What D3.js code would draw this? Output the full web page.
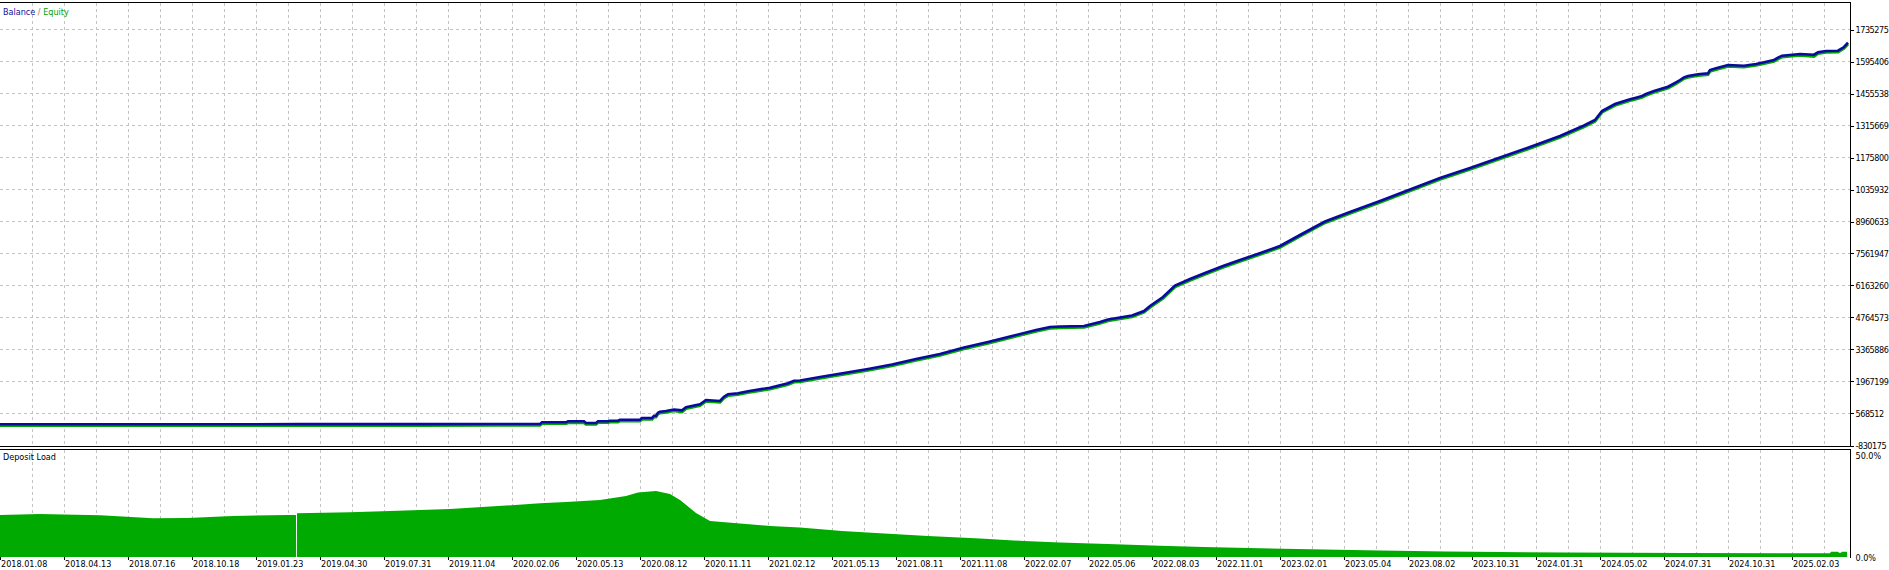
<!DOCTYPE html>
<html><head><meta charset="utf-8">
<script src="https://cdn.jsdelivr.net/npm/d3@7"></script>
<style>
html,body{margin:0;padding:0;background:#fff;overflow:hidden}
svg{display:block}
text{font-family:"DejaVu Sans Condensed","DejaVu Sans",sans-serif;font-stretch:condensed;font-size:9px;fill:#000}
.ylab{letter-spacing:-0.45px}
</style></head><body>
<svg id="c" width="1889" height="570"></svg>
<script>
// ---- data ----
const dateLabels = ["2018.01.08","2018.04.13","2018.07.16","2018.10.18","2019.01.23","2019.04.30","2019.07.31","2019.11.04",
  "2020.02.06","2020.05.13","2020.08.12","2020.11.11","2021.02.12","2021.05.13","2021.08.11","2021.11.08",
  "2022.02.07","2022.05.06","2022.08.03","2022.11.01","2023.02.01","2023.05.04","2023.08.02","2023.10.31",
  "2024.01.31","2024.05.02","2024.07.31","2024.10.31","2025.02.03"];
const dateTickDeals = [0,32,64,96,128,160,192,224,256,288,320,352,384,416,448,480,512,544,576,608,640,672,704,736,768,800,832,864,896];
const totalDeals = 925;
const gridDeals = [16,32,48,64,80,96,112,128,144,160,176,192,208,224,240,256,272,288,304,320,336,352,368,384,400,416,432,448,464,480,496,512,528,544,560,576,592,608,624,640,656,672,688,704,720,736,752,768,784,800,816,832,848,864,880,896,912];
const balanceTicks = [-830175,568512,1967199,3365886,4764573,6163260,7561947,8960633,10359320,11758007,13156694,14555381,15954068,17352755];
// labels as they appear (cut by the window edge in the original)
const balanceTickLabels = ["-830175","568512","1967199","3365886","4764573","6163260","7561947","8960633","1035932","1175800","1315669","1455538","1595406","1735275"];
const loadTicks = [0,50];
const loadTickLabels = ["0.0%","50.0%"];

const deals = [0,50,100,150,186,210,250,270,271,283,284,292,293,298,299,304,305,309,310,320,321,326,327,328,329,330,333,337,341,343,350,353,360,362,364,369,374,385,394,397,400,
  410,422,434,446,458,470,482,494,506,518,525,530,542,550,554,566,572,
  575,581.5,587.5,595,602.5,611.5,620,629.5,640,650,662.5,675,690,705,720,735,750,765,780,792,797.5,801,807.5,
  815,818,821,823,827,834,838,840,842,844,849,854,855,858,864,872,878,882,887,889,891,900,907,909,913,919,922,924];
const balance = [100000,100500,101000,102000,104000,105000,109000,110000,184000,184000,227000,227000,153000,153000,227000,228000,254000,254000,297000,298000,372000,372000,472000,472000,603000,647000,678000,743000,708000,840000,971000,1159000,1115000,1303000,1408000,1451000,1539000,1696000,1888000,2002000,2010000,
  2164000,2339000,2514000,2710000,2951000,3169000,3453000,3694000,3956000,4218000,4349000,4371000,4393000,4568000,4677000,4852000,5049000,
  5267000,5661000,6163000,6447000,6710000,7016000,7278000,7562000,7890000,8371000,8961000,9376000,9857000,10359000,10862000,11299000,11758000,12217000,12698000,13157000,13397000,13791000,14096000,
  14302000,14372000,14446000,14534000,14665000,14853000,15045000,15145000,15263000,15320000,15395000,15438000,15583000,15657000,15801000,15771000,15845000,15919000,16020000,16120000,16208000,16282000,16251000,16356000,16413000,16426000,16588000,16776000];
const equity = [100000,100500,101000,102000,104000,105000,109000,110000,184000,184000,220000,220000,153000,153000,227000,228000,254000,254000,297000,298000,372000,372000,472000,472000,603000,647000,678000,743000,690000,840000,971000,1159000,1115000,1303000,1408000,1451000,1539000,1696000,1888000,2002000,2010000,
  2164000,2339000,2514000,2710000,2951000,3169000,3453000,3694000,3956000,4218000,4349000,4371000,4393000,4568000,4677000,4852000,5049000,
  5267000,5661000,6163000,6447000,6710000,7016000,7278000,7562000,7890000,8371000,8961000,9376000,9857000,10359000,10862000,11299000,11758000,12217000,12698000,13157000,13397000,13791000,14096000,
  14302000,14372000,14446000,14534000,14665000,14853000,15045000,15145000,15263000,15320000,15395000,15438000,15583000,15657000,15801000,15771000,15845000,15919000,16020000,16120000,16208000,16282000,16230000,16356000,16413000,16426000,16588000,16776000];

const loadDeals = [0,20,50,63.5,76.5,93.5,116.5,143.5,148,148.05,148.45,148.5,175,199,225,253,270,283,300,313,319,328,335,340,348,355,367,385,400,421,440,464,490,512,530,554,580,602,630,662,690,723,750,783,843,903,915,915.5,919,919.5,920.5,921,923.5,923.6];
const depositLoad = [19.5,20.0,19.4,18.7,18.0,18.1,19.1,19.5,19.5,0,0,20.3,20.8,21.5,22.3,23.9,25.0,25.6,26.5,28.4,30.0,30.7,29.3,26.5,20.5,16.7,15.8,14.4,13.7,12.1,11.0,9.8,8.6,7.4,6.8,6.0,5.2,4.7,4.1,3.5,3.0,2.6,2.3,2.1,1.9,1.7,1.7,2.4,2.4,2.0,2.0,2.4,2.4,0];

// ---- layout ----
const svg = d3.select("#c");
const x = d3.scaleLinear().domain([0, totalDeals]).range([0, 1850]);
const yMain = d3.scaleLinear().domain([-830175, 17352755]).range([445.5, 29.5]);
const yLoad = d3.scaleLinear().domain([0, 50]).range([557, 449.5]);
const gridColor = "#c3c3c3";
const rightX = 1850.5;

// main panel gridlines
const gMain = svg.append("g");
gMain.selectAll("line.h").data(balanceTicks.slice(1)).join("line")
  .attr("x1", 0).attr("x2", 1850).attr("y1", d => yMain(d)).attr("y2", d => yMain(d))
  .attr("stroke", gridColor).attr("stroke-dasharray", "3,3");
gMain.selectAll("line.v").data(gridDeals).join("line")
  .attr("x1", d => x(d) + 0.5).attr("x2", d => x(d) + 0.5).attr("y1", 3).attr("y2", 446)
  .attr("stroke", gridColor).attr("stroke-dasharray", "3,3");

// deposit panel gridlines
const gLoad = svg.append("g");
gLoad.selectAll("line").data(gridDeals).join("line")
  .attr("x1", d => x(d) + 0.5).attr("x2", d => x(d) + 0.5).attr("y1", 450).attr("y2", 557)
  .attr("stroke", gridColor).attr("stroke-dasharray", "3,3");

// deposit load area
const loadData = loadDeals.map((d, i) => [d, depositLoad[i]]);
svg.append("path").datum(loadData)
  .attr("fill", "#00aa00")
  .attr("d", d3.area().x(d => x(d[0])).y0(yLoad(0)).y1(d => yLoad(d[1])).curve(d3.curveLinear));

// equity + balance
const eqData = deals.map((d, i) => [d, equity[i]]);
const balData = deals.map((d, i) => [d, balance[i]]);
const line = d3.line().x(d => x(d[0])).y(d => yMain(d[1]));
svg.append("path").datum(eqData).attr("fill", "none").attr("stroke", "#00a800")
  .attr("stroke-width", 3).attr("transform", "translate(0,1.3)").attr("d", line);
svg.append("path").datum(balData).attr("fill", "none").attr("stroke", "#0a0aa0")
  .attr("stroke-width", 2.6).attr("d", line);

// borders
const borders = svg.append("g").attr("stroke", "#000").attr("stroke-width", 1).attr("fill", "none");
borders.append("line").attr("x1", 0).attr("x2", rightX).attr("y1", 2.5).attr("y2", 2.5);
borders.append("line").attr("x1", 0).attr("x2", rightX).attr("y1", 446.5).attr("y2", 446.5);
borders.append("line").attr("x1", 0).attr("x2", rightX).attr("y1", 449.5).attr("y2", 449.5);
borders.append("line").attr("x1", rightX).attr("x2", rightX).attr("y1", 2).attr("y2", 447);
borders.append("line").attr("x1", rightX).attr("x2", rightX).attr("y1", 449).attr("y2", 558);

// right axis main
const axMain = svg.append("g");
axMain.selectAll("line").data(balanceTicks).join("line")
  .attr("x1", 1851).attr("x2", 1854).attr("y1", d => Math.round(yMain(d)) + 0.5).attr("y2", d => Math.round(yMain(d)) + 0.5)
  .attr("stroke", "#000");
axMain.selectAll("text").data(balanceTicks).join("text").attr("class", "ylab")
  .attr("x", 1855.5).attr("y", d => yMain(d) + 3.6)
  .text((d, i) => balanceTickLabels[i]);

// right axis load
svg.append("g").selectAll("text").data(loadTicks).join("text")
  .attr("x", 1855.5).attr("y", (d, i) => yLoad(d) + (i === 1 ? 9 : 4))
  .text((d, i) => loadTickLabels[i]);

// bottom date axis
const axDate = svg.append("g");
axDate.selectAll("line").data(dateTickDeals).join("line")
  .attr("x1", d => x(d) + 0.5).attr("x2", d => x(d) + 0.5).attr("y1", 557).attr("y2", 560)
  .attr("stroke", "#000");
axDate.selectAll("text").data(dateTickDeals).join("text")
  .attr("x", d => x(d) + 1).attr("y", 567)
  .text((d, i) => dateLabels[i]);

// legends
const leg = svg.append("text").attr("x", 3).attr("y", 14.5);
leg.append("tspan").attr("fill", "#10109a").text("Balance");
leg.append("tspan").attr("fill", "#b07818").text(" / ");
leg.append("tspan").attr("fill", "#00a000").text("Equity");
svg.append("text").attr("x", 3).attr("y", 459.5).text("Deposit Load");
</script>
</body></html>
